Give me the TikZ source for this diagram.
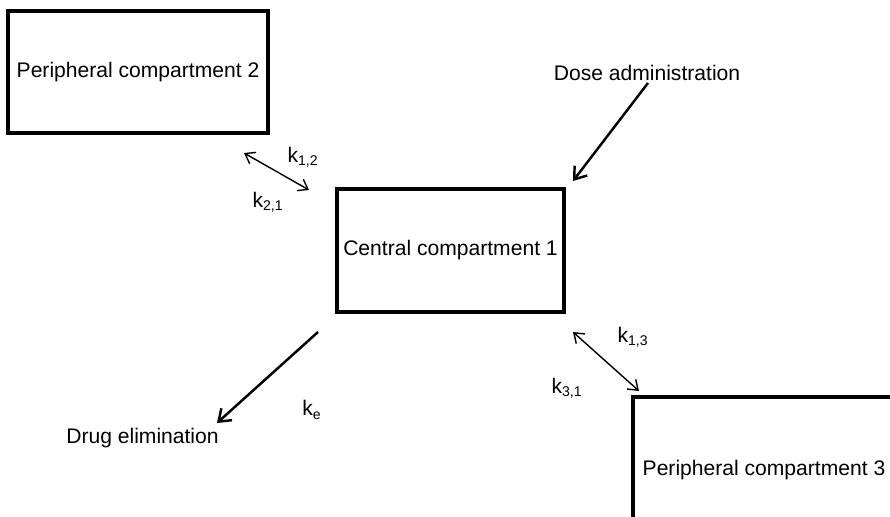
\documentclass[tikz,border=0pt]{standalone}
\usepackage{fontspec}
\setmainfont{Liberation Sans}
\usetikzlibrary{arrows.meta, positioning}

\begin{document}
\begin{tikzpicture}[
  >={Straight Barb[length=2.2mm, width=3.2mm]},
  every node/.style={font=\fontsize{12}{14}\selectfont},
  compbox/.style={draw, line width=2.1pt, inner sep=0pt},
  flowarrow/.style={line width=1.4pt, ->},
  ratearrow/.style={line width=0.8pt, <->, >={Straight Barb[length=1.8mm, width=2.6mm]}},
]

% Frame
\clip (0,0) rectangle (17.8,10.32);

% Compartments
\node[compbox, minimum width=5.2cm, minimum height=2.44cm] (p2) at (2.76,8.88) {Peripheral compartment 2};
\node[compbox, minimum width=4.54cm, minimum height=2.46cm] (c1) at (9.01,5.31) {Central compartment 1};
\node[compbox, minimum width=5.24cm, minimum height=2.92cm] (p3) at (15.28,0.92) {Peripheral compartment 3};

% Dose administration
\node (dose) at (12.94,8.86) {Dose administration};
\coordinate (dosestart) at (12.96,8.66);
\coordinate (doseend) at (11.46,6.70);
\draw[flowarrow] (dosestart) -- (doseend);

% Elimination
\node (elim) at (2.85,1.56) {Drug elimination};
\coordinate (elimstart) at (6.36,3.68);
\coordinate (elimend) at (4.34,1.86);
\draw[flowarrow] (elimstart) -- (elimend);
\node (ke) at (6.24,2.12) {k\textsubscript{e}};

% Exchange central <-> peripheral 2
\coordinate (a12) at (4.88,7.26);
\coordinate (b12) at (6.18,6.52);
\draw[ratearrow] (a12) -- (b12);
\node (k12) at (6.06,7.18) {k\textsubscript{1,2}};
\node (k21) at (5.36,6.28) {k\textsubscript{2,1}};

% Exchange central <-> peripheral 3
\coordinate (a13) at (11.46,3.68);
\coordinate (b13) at (12.78,2.50);
\draw[ratearrow] (a13) -- (b13);
\node (k13) at (12.66,3.58) {k\textsubscript{1,3}};
\node (k31) at (11.34,2.56) {k\textsubscript{3,1}};

\end{tikzpicture}
\end{document}
